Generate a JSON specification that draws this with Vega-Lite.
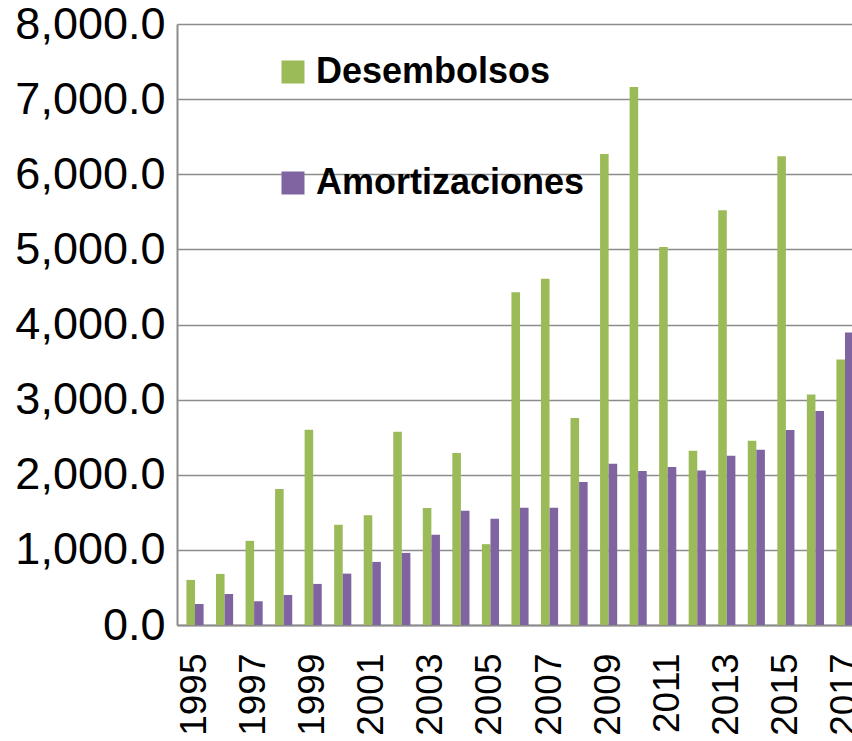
{
  "$schema": "https://vega.github.io/schema/vega-lite/v6.json",
  "width": 686,
  "height": 601,
  "autosize": {"type": "none"},
  "padding": {"left": 177, "top": 24, "right": -11, "bottom": 116},
  "background": "white",
  "config": {"view": {"stroke": null}, "font": "Liberation Sans"},
  "data": {
    "values": [
      {"year": "1995", "series": "Desembolsos", "value": 600},
      {"year": "1995", "series": "Amortizaciones", "value": 280},
      {"year": "1996", "series": "Desembolsos", "value": 680},
      {"year": "1996", "series": "Amortizaciones", "value": 413},
      {"year": "1997", "series": "Desembolsos", "value": 1120},
      {"year": "1997", "series": "Amortizaciones", "value": 316},
      {"year": "1998", "series": "Desembolsos", "value": 1809},
      {"year": "1998", "series": "Amortizaciones", "value": 400},
      {"year": "1999", "series": "Desembolsos", "value": 2600},
      {"year": "1999", "series": "Amortizaciones", "value": 547},
      {"year": "2000", "series": "Desembolsos", "value": 1333},
      {"year": "2000", "series": "Amortizaciones", "value": 684},
      {"year": "2001", "series": "Desembolsos", "value": 1462},
      {"year": "2001", "series": "Amortizaciones", "value": 840},
      {"year": "2002", "series": "Desembolsos", "value": 2573},
      {"year": "2002", "series": "Amortizaciones", "value": 960},
      {"year": "2003", "series": "Desembolsos", "value": 1556},
      {"year": "2003", "series": "Amortizaciones", "value": 1200},
      {"year": "2004", "series": "Desembolsos", "value": 2289},
      {"year": "2004", "series": "Amortizaciones", "value": 1520},
      {"year": "2005", "series": "Desembolsos", "value": 1076},
      {"year": "2005", "series": "Amortizaciones", "value": 1413},
      {"year": "2006", "series": "Desembolsos", "value": 4430},
      {"year": "2006", "series": "Amortizaciones", "value": 1560},
      {"year": "2007", "series": "Desembolsos", "value": 4610},
      {"year": "2007", "series": "Amortizaciones", "value": 1560},
      {"year": "2008", "series": "Desembolsos", "value": 2756},
      {"year": "2008", "series": "Amortizaciones", "value": 1903},
      {"year": "2009", "series": "Desembolsos", "value": 6270},
      {"year": "2009", "series": "Amortizaciones", "value": 2147},
      {"year": "2010", "series": "Desembolsos", "value": 7160},
      {"year": "2010", "series": "Amortizaciones", "value": 2049},
      {"year": "2011", "series": "Desembolsos", "value": 5030},
      {"year": "2011", "series": "Amortizaciones", "value": 2103},
      {"year": "2012", "series": "Desembolsos", "value": 2320},
      {"year": "2012", "series": "Amortizaciones", "value": 2057},
      {"year": "2013", "series": "Desembolsos", "value": 5520},
      {"year": "2013", "series": "Amortizaciones", "value": 2253},
      {"year": "2014", "series": "Desembolsos", "value": 2453},
      {"year": "2014", "series": "Amortizaciones", "value": 2333},
      {"year": "2015", "series": "Desembolsos", "value": 6240},
      {"year": "2015", "series": "Amortizaciones", "value": 2596},
      {"year": "2016", "series": "Desembolsos", "value": 3067},
      {"year": "2016", "series": "Amortizaciones", "value": 2849},
      {"year": "2017", "series": "Desembolsos", "value": 3533},
      {"year": "2017", "series": "Amortizaciones", "value": 3893}
    ]
  },
  "mark": {"type": "bar"},
  "encoding": {
    "x": {
      "field": "year",
      "type": "ordinal",
      "scale": {"paddingInner": 0.42, "paddingOuter": 0.32},
      "axis": {
        "title": null,
        "values": ["1995", "1997", "1999", "2001", "2003", "2005", "2007", "2009", "2011", "2013", "2015", "2017"],
        "labelAngle": -90,
        "labelFontSize": 37,
        "labelColor": "#000000",
        "labelPadding": 28,
        "ticks": false,
        "domainColor": "#8c8c8c",
        "domainWidth": 2,
        "grid": false
      }
    },
    "xOffset": {"field": "series", "scale": {"domain": ["Desembolsos", "Amortizaciones"]}},
    "y": {
      "field": "value",
      "type": "quantitative",
      "scale": {"domain": [0, 8000], "nice": false},
      "axis": {
        "title": null,
        "values": [0, 1000, 2000, 3000, 4000, 5000, 6000, 7000, 8000],
        "format": ",.1f",
        "labelFontSize": 45,
        "labelColor": "#000000",
        "labelPadding": 12,
        "ticks": false,
        "domainColor": "#8c8c8c",
        "domainWidth": 2,
        "grid": true,
        "gridColor": "#8c8c8c",
        "gridWidth": 1.5
      }
    },
    "color": {
      "field": "series",
      "type": "nominal",
      "scale": {"domain": ["Desembolsos", "Amortizaciones"], "range": ["#9BBB59", "#8064A2"]},
      "legend": {
        "title": null,
        "orient": "none",
        "legendX": 98,
        "legendY": 30,
        "direction": "vertical",
        "symbolType": "square",
        "symbolSize": 529,
        "symbolStrokeWidth": 0,
        "labelFont": "Liberation Sans",
        "labelFontWeight": "bold",
        "labelFontSize": 36,
        "labelColor": "#000000",
        "labelOffset": 5,
        "rowPadding": 75,
        "labelLimit": 400
      }
    }
  }
}
